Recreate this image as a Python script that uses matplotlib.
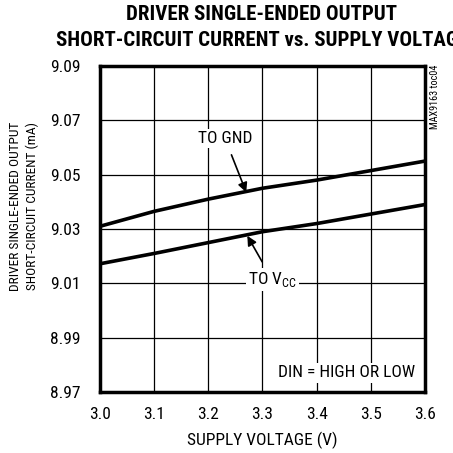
import matplotlib
matplotlib.use("Agg")
import matplotlib.pyplot as plt

plt.rcParams['font.family'] = ['Roboto Condensed', 'DejaVu Sans']
plt.rcParams['mathtext.fontset'] = 'custom'
plt.rcParams['mathtext.rm'] = 'Roboto Condensed'

# data
voltage = [3.0, 3.1, 3.2, 3.3, 3.4, 3.5, 3.6]
i_to_gnd = [9.031, 9.0365, 9.041, 9.045, 9.048, 9.0515, 9.055]
i_to_vcc = [9.0172, 9.021, 9.025, 9.029, 9.032, 9.0355, 9.039]

x_ticks = [3.0, 3.1, 3.2, 3.3, 3.4, 3.5, 3.6]
y_ticks = [8.97, 8.99, 9.01, 9.03, 9.05, 9.07, 9.09]

fig = plt.figure(figsize=(4.53, 4.53), dpi=100)
ax = fig.add_axes([100/453, 1-392/453, 325/453, 326/453])

ax.plot(voltage, i_to_gnd, color='black', lw=2.6, zorder=3)
ax.plot(voltage, i_to_vcc, color='black', lw=2.6, zorder=3)

ax.set_xlim(3.0, 3.6)
ax.set_ylim(8.97, 9.09)
ax.set_xticks(x_ticks)
ax.set_xticklabels([f"{v:.1f}" for v in x_ticks])
ax.set_yticks(y_ticks)
ax.set_yticklabels([f"{v:.2f}" for v in y_ticks])
ax.tick_params(length=0, labelsize=12.5)
ax.tick_params(axis='x', pad=11)
ax.tick_params(axis='y', pad=14)
ax.grid(True, color='black', lw=0.9, zorder=1)
ax.set_axisbelow(True)
for s in ax.spines.values():
    s.set_linewidth(2.5)

ax.set_xlabel("SUPPLY VOLTAGE (V)", fontsize=12.5, labelpad=7)
fig.text(24/453, 1-206/453, "DRIVER SINGLE-ENDED OUTPUT\nSHORT-CIRCUIT CURRENT (mA)",
         rotation=90, ha='center', va='center', fontsize=9.6, linespacing=1.3)

fig.text(262/453, 1-14/453, "DRIVER SINGLE-ENDED OUTPUT", ha='center', va='center',
         fontsize=15, fontweight='bold')
fig.text(262/453, 1-41/453, "SHORT-CIRCUIT CURRENT vs. SUPPLY VOLTAGE", ha='center',
         va='center', fontsize=15, fontweight='bold')

fig.text(435/453, 1-65/453, "MAX9163 toc04", rotation=90, ha='center', va='top',
         fontsize=7.3)

box = dict(facecolor='white', edgecolor='none', pad=1.5)
ax.annotate("TO GND", xy=(3.27, 9.0435), xytext=(3.231, 9.0632), ha='center',
            va='center', fontsize=12.5, zorder=4, bbox=box,
            arrowprops=dict(arrowstyle='-|>', color='black', lw=1.2,
                            mutation_scale=14, shrinkA=5, shrinkB=0))
ax.annotate(r"TO V$_{\mathregular{CC}}$", xy=(3.272, 9.0275), xytext=(3.318, 9.0114),
            ha='center', va='center', fontsize=12.5, zorder=4, bbox=box,
            arrowprops=dict(arrowstyle='-|>', color='black', lw=1.2,
                            mutation_scale=14, shrinkA=5, shrinkB=0))
ax.text(3.456, 8.977, "DIN = HIGH OR LOW", ha='center', va='center',
        fontsize=12.5, zorder=4, bbox=box)

fig.savefig("out.png", dpi=100)
